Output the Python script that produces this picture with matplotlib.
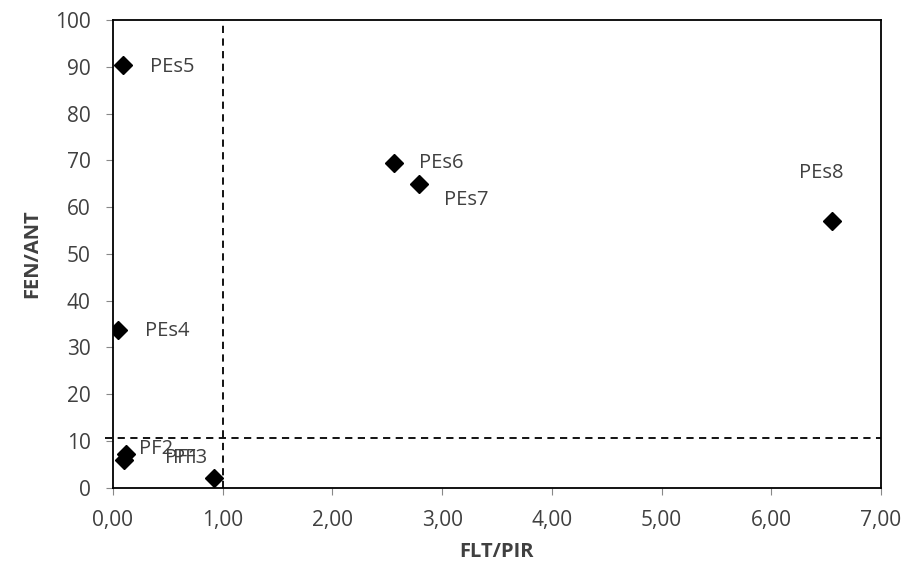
import matplotlib
matplotlib.use("Agg")
import matplotlib.pyplot as plt

# puntos (FLT/PIR, FEN/ANT)
nombres = ["PEs5", "PEs4", "PEs6", "PEs7", "PEs8", "PF1", "PF2", "PF3"]
flt_pir = [0.09, 0.05, 2.56, 2.79, 6.55, 0.10, 0.12, 0.92]
fen_ant = [90.3, 33.8, 69.4, 65.0, 57.0, 6.0, 7.2, 2.1]

# posicion de las etiquetas (esquina izquierda, en datos)
etq_x = [0.34, 0.29, 2.79, 3.02, 6.25, 0.47, 0.24, 0.55]
etq_y = [90.0, 33.5, 69.4, 61.5, 67.3, 6.4, 8.3, 6.4]

xticks = [0, 1, 2, 3, 4, 5, 6, 7]
yticks = [0, 10, 20, 30, 40, 50, 60, 70, 80, 90, 100]

plt.rcParams['font.family'] = ['Open Sans', 'DejaVu Sans']

fig = plt.figure(figsize=(9.11, 5.78), dpi=100)
ax = fig.add_axes([0.124, 0.156, 0.843, 0.8095])

ax.plot(flt_pir, fen_ant, 'D', color='black', markersize=9, linestyle='none', zorder=3)

for n, x, y in zip(nombres, etq_x, etq_y):
    ax.text(x, y, n, ha='left', va='center', fontsize=14.5, color='#404040')

# lineas de corte
ax.axvline(1.0, color='black', linestyle=(0, (4, 3)), linewidth=1.3)
ax.plot([-0.07, 7], [10.7, 10.7], color='black', linestyle=(0, (4, 3)), linewidth=1.3, clip_on=False)

ax.set_xlim(0, 7)
ax.set_ylim(0, 100)
ax.set_xticks(xticks)
ax.set_xticklabels([("%.2f" % v).replace('.', ',') for v in xticks])
ax.set_yticks(yticks)
ax.tick_params(labelsize=15, colors='#404040', length=5, direction='out')
ax.tick_params(axis='y', pad=11)
ax.tick_params(axis='x', pad=11)
ax.tick_params(color='#888888')

for s in ax.spines.values():
    s.set_color('black')
    s.set_linewidth(1.3)

ax.set_xlabel("FLT/PIR", fontsize=14.5, fontweight='bold', color='#404040', labelpad=8)
ax.set_ylabel("FEN/ANT", fontsize=14.5, fontweight='bold', color='#404040', labelpad=9)

fig.savefig("out.png", dpi=100)
